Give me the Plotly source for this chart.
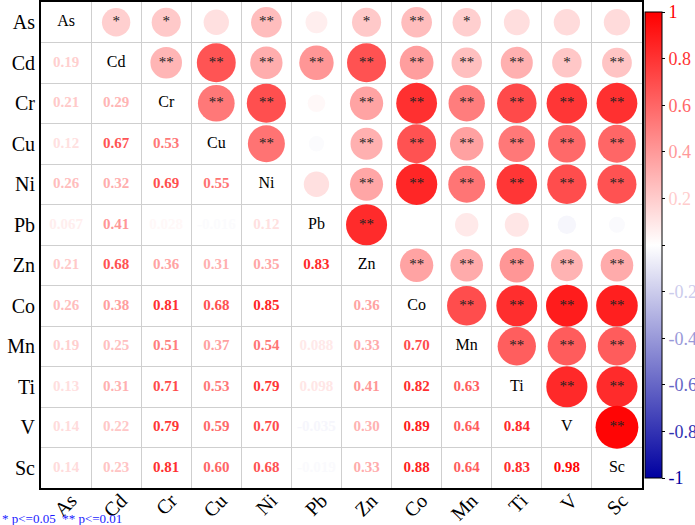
"""
Correlation matrix of trace elements: circles (upper), coefficients (lower).
"""
import plotly.graph_objects as go

ELEMENTS = ["As", "Cd", "Cr", "Cu", "Ni", "Pb", "Zn", "Co", "Mn", "Ti", "V", "Sc"]

# lower triangle, row by row (row i has i values); None = not shown
R_CD = [0.19]
R_CR = [0.21, 0.29]
R_CU = [0.12, 0.67, 0.53]
R_NI = [0.26, 0.32, 0.69, 0.55]
R_PB = [0.067, 0.41, 0.028, -0.016, 0.12]
R_ZN = [0.21, 0.68, 0.36, 0.31, 0.35, 0.83]
R_CO = [0.26, 0.38, 0.81, 0.68, 0.85, None, 0.36]
R_MN = [0.19, 0.25, 0.51, 0.37, 0.54, 0.088, 0.33, 0.70]
R_TI = [0.13, 0.31, 0.71, 0.53, 0.79, 0.098, 0.41, 0.82, 0.63]
R_V = [0.14, 0.22, 0.79, 0.59, 0.70, -0.035, 0.30, 0.89, 0.64, 0.84]
R_SC = [0.14, 0.23, 0.81, 0.60, 0.68, -0.019, 0.33, 0.88, 0.64, 0.83, 0.98]
LOWER = [[], R_CD, R_CR, R_CU, R_NI, R_PB, R_ZN, R_CO, R_MN, R_TI, R_V, R_SC]

# significance marks for the upper triangle, row by row (row i: columns i+1..)
SIG = [
    ["*", "*", "", "**", "", "*", "**", "*", "", "", ""],
    ["**", "**", "**", "**", "**", "**", "**", "**", "*", "**"],
    ["**", "**", "", "**", "**", "**", "**", "**", "**"],
    ["**", "", "**", "**", "**", "**", "**", "**"],
    ["", "**", "**", "**", "**", "**", "**"],
    ["**", "", "", "", "", ""],
    ["**", "**", "**", "**", "**"],
    ["**", "**", "**", "**"],
    ["**", "**", "**"],
    ["**", "**"],
    ["**"],
    [],
]

CB_TICKS = [1, 0.8, 0.6, 0.4, 0.2, 0, -0.2, -0.4, -0.6, -0.8, -1]

BLUE = (0, 0, 160)
RED = (255, 0, 0)
SERIF = "Liberation Serif, Times New Roman, serif"


def colour(v):
    end = RED if v >= 0 else BLUE
    t = min(abs(v), 1)
    r, g, b = (round(255 + (c - 255) * t) for c in end)
    return f"rgb({r},{g},{b})"


def fmt(v):
    return f"{v:.2f}" if abs(v) >= 0.1 else f"{v:.2g}"


# build cell lists
up_x, up_y, up_v, up_s = [], [], [], []
lo_x, lo_y, lo_t, lo_c = [], [], [], []
for i, row in enumerate(LOWER):
    for j, v in enumerate(row):
        if v is None:
            continue
        lo_x.append(j); lo_y.append(i)
        lo_t.append(f"<b>{fmt(v)}</b>"); lo_c.append(colour(v))
        # mirror into the upper triangle
        up_x.append(i); up_y.append(j); up_v.append(v)
        up_s.append(SIG[j][i - j - 1])

fig = go.Figure()
fig.add_trace(go.Scatter(
    x=up_x, y=up_y, mode="markers",
    marker=dict(
        size=[43 * abs(v) ** 0.25 for v in up_v],
        opacity=1,
        color=up_v, cmin=-1, cmax=1,
        colorscale=[[0, "rgb(0,0,160)"], [0.5, "white"], [1, "rgb(255,0,0)"]],
        line_width=0,
        showscale=True,
        colorbar=dict(
            x=1.005, xanchor="left", xpad=0, y=0.5, yanchor="middle",
            len=1, lenmode="fraction", thickness=17,
            outlinecolor="black", outlinewidth=1,
            tickvals=CB_TICKS,
            ticktext=[f"<span style='color:{colour(t)}'>{t:g}</span>" for t in CB_TICKS],
            ticks="outside", ticklen=3, tickcolor="black",
            tickfont=dict(family=SERIF, size=18),
        ),
    ),
    hoverinfo="skip", showlegend=False,
))
fig.add_trace(go.Scatter(
    x=up_x, y=up_y, mode="text", text=up_s,
    textfont=dict(family=SERIF, size=15, color="#222222"),
    hoverinfo="skip", showlegend=False,
))
fig.add_trace(go.Scatter(
    x=lo_x, y=lo_y, mode="text", text=lo_t,
    textfont=dict(family=SERIF, size=15, color=lo_c),
    hoverinfo="skip", showlegend=False,
))
fig.add_trace(go.Scatter(
    x=list(range(len(ELEMENTS))), y=list(range(len(ELEMENTS))),
    mode="text", text=ELEMENTS,
    textfont=dict(family=SERIF, size=16, color="black"),
    hoverinfo="skip", showlegend=False,
))

axis = dict(
    tickvals=list(range(len(ELEMENTS))), ticktext=ELEMENTS,
    showgrid=False, zeroline=False, ticks="",
    showline=True, linecolor="black", linewidth=2, mirror=True,
    tickfont=dict(family=SERIF, size=20, color="black"),
    minor=dict(tick0=0.5, dtick=1, showgrid=True, gridcolor="#cfcfcf", gridwidth=1),
)
fig.update_layout(
    width=695, height=525,
    margin=dict(l=41, r=53, t=2, b=37, autoexpand=False),
    plot_bgcolor="white", paper_bgcolor="white",
    xaxis=dict(axis, range=[-0.5, 11.5], tickangle=-45, ticklabelstandoff=-9,
               tickvals=[i + 0.1 for i in range(len(ELEMENTS))]),
    yaxis=dict(axis, range=[11.5, -0.5]),
)
fig.add_annotation(
    text="* p<=0.05  ** p<=0.01",
    xref="paper", yref="paper", x=-0.068, y=-0.062,
    xanchor="left", yanchor="middle", showarrow=False,
    font=dict(family=SERIF, size=13, color="#1a1aff"),
)
# the page's default body margin would shift the 695x525 figure off the window
fig.write_html("out.html", config={"displayModeBar": False},
               post_script="document.body.style.margin = '0';")
